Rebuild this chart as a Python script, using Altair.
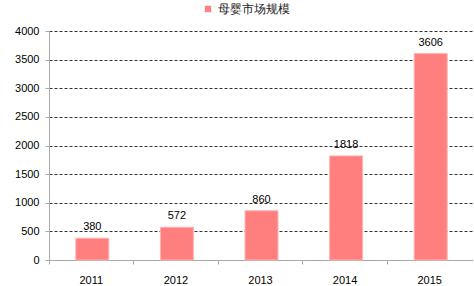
import altair as alt
import pandas as pd

years = ["2011", "2012", "2013", "2014", "2015"]
values = [380, 572, 860, 1818, 3606]
series = "母婴市场规模"

df = pd.DataFrame({"year": years, "value": values, "series": [series] * len(years)})

font = "Liberation Sans"

base = alt.Chart(df).encode(
    x=alt.X(
        "year:N",
        sort=years,
        scale=alt.Scale(paddingInner=0, paddingOuter=0),
        axis=alt.Axis(
            title=None, labelAngle=0, bandPosition=0, grid=False,
            domainColor="#aaaaaa", tickColor="#aaaaaa", tickSize=4,
            labelFont=font, labelFontSize=11, labelColor="#000000", labelPadding=10,
        ),
    ),
    y=alt.Y(
        "value:Q",
        scale=alt.Scale(domain=[0, 4000]),
        axis=alt.Axis(
            title=None, values=list(range(0, 4001, 500)), format="d",
            grid=True, gridColor="#333333", gridDash=[3, 2], gridWidth=1,
            domainColor="#aaaaaa", tickColor="#aaaaaa", tickSize=4,
            labelFont=font, labelFontSize=11, labelColor="#000000", labelPadding=6,
        ),
    ),
)

bars = base.mark_bar(width=33, xOffset=1, stroke="#ffb3b3", strokeWidth=1).encode(
    color=alt.Color(
        "series:N",
        scale=alt.Scale(range=["#ff7f7f"]),
        legend=alt.Legend(
            title=None, orient="none", legendX=153, legendY=-28,
            symbolType="square", symbolSize=40, symbolStrokeWidth=0,
            labelFont=font, labelFontSize=12, labelColor="#222222",
        ),
    )
)

labels = base.mark_text(
    baseline="bottom", dy=-6, dx=1, font=font, fontSize=11, color="#000000"
).encode(text="value:Q")

chart = (
    alt.layer(bars, labels)
    .properties(
        width=423, height=229,
        autosize=alt.AutoSizeParams(type="none"),
        padding={"left": 49, "top": 31, "right": 2, "bottom": 26},
    )
    .configure_view(stroke=None)
    .configure_axisY(domain=True)
)

chart.save("out.html", embed_options={"renderer": "svg", "actions": False})
